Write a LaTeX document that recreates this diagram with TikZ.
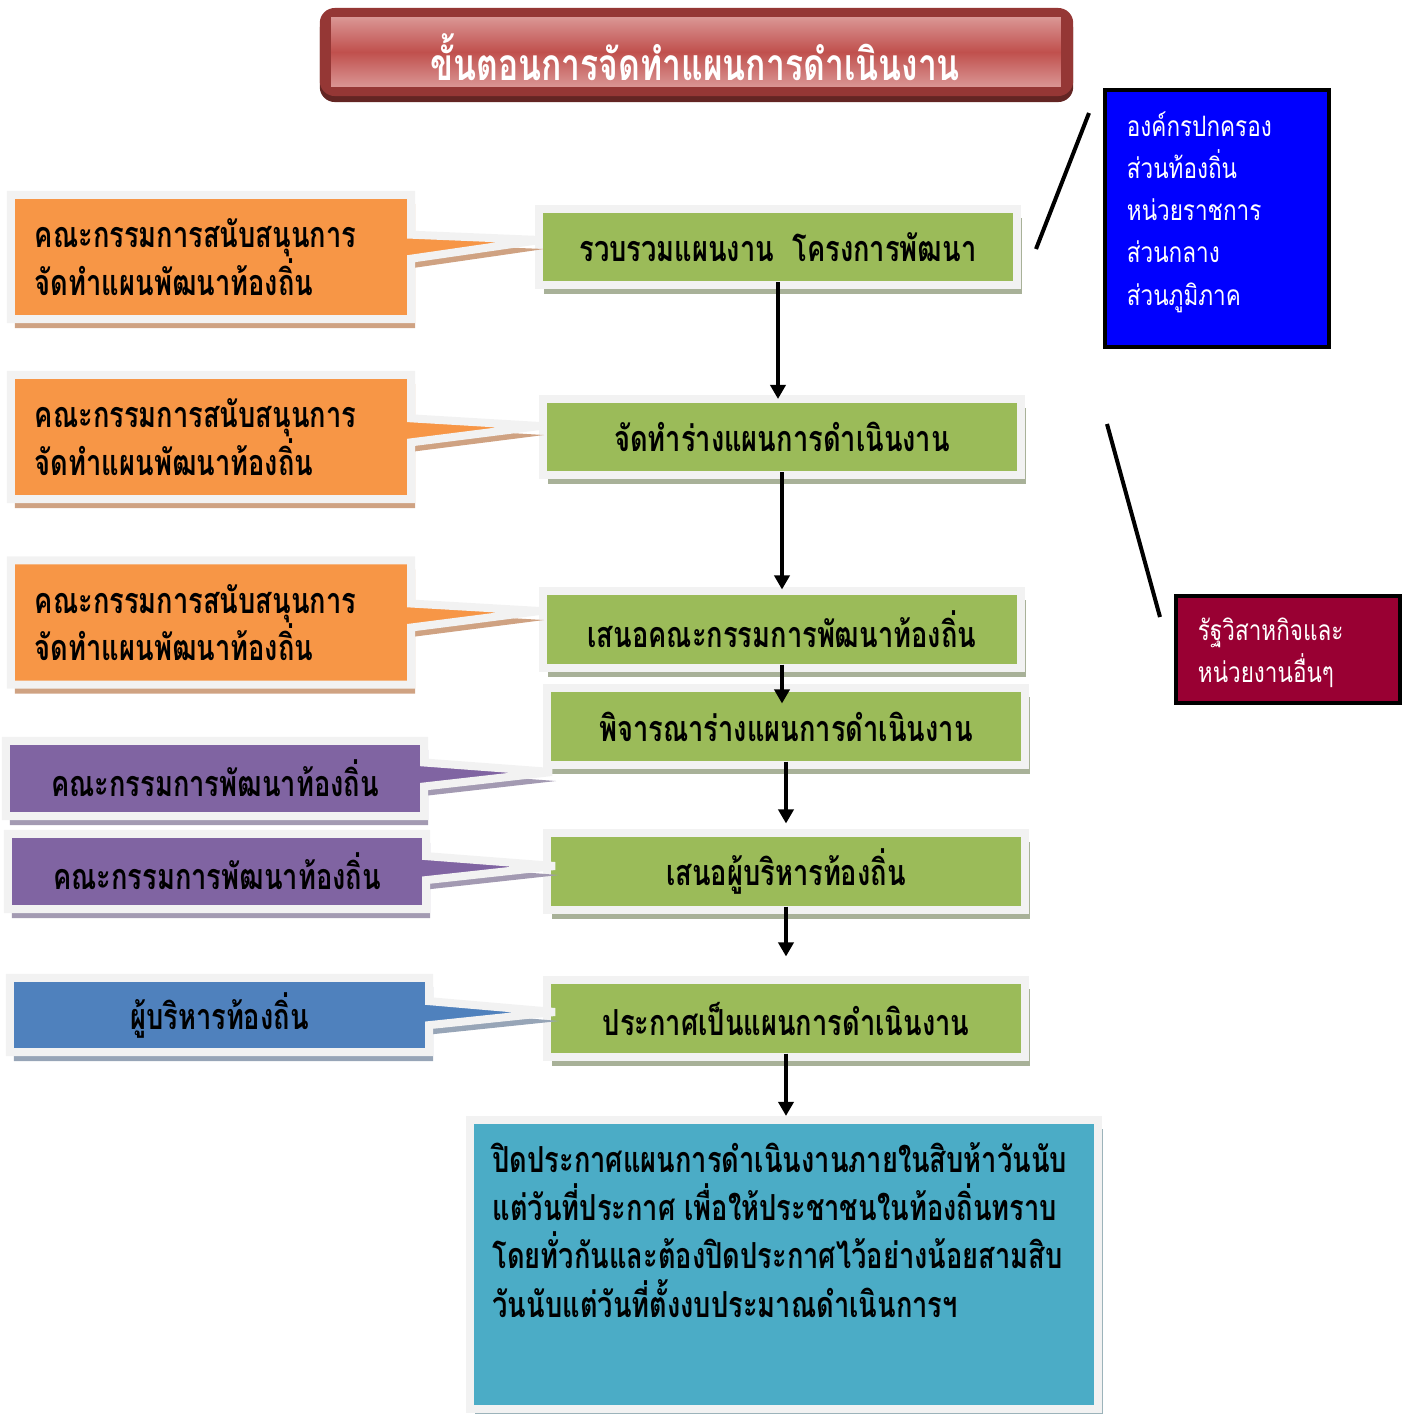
\documentclass[tikz,border=0pt]{standalone}
\usepackage{fontspec}
\usepackage{tikz}
\usetikzlibrary{calc, arrows.meta, shapes.callouts, shadows}
\newfontfamily\thaiplain[Script=Thai, FakeStretch=0.8]{Loma}
\newfontfamily\thaicond[Script=Thai, FakeStretch=0.76]{Loma}
\definecolor{framegray}{HTML}{F2F2F2}
\definecolor{titlered}{HTML}{953735}
\definecolor{titledark}{HTML}{632523}
\definecolor{titlelight}{HTML}{DA9694}
\definecolor{titlemid}{HTML}{C0504D}
\definecolor{stepgreen}{HTML}{9BBB59}
\definecolor{stepshade}{HTML}{A8B198}
\definecolor{noteorange}{HTML}{F79646}
\definecolor{noteorangeshade}{HTML}{CFA282}
\definecolor{notepurple}{HTML}{8064A2}
\definecolor{notepurpleshade}{HTML}{A39AB2}
\definecolor{noteblue}{HTML}{4F81BD}
\definecolor{noteblueshade}{HTML}{97A5B7}
\definecolor{noticeteal}{HTML}{4BACC6}
\definecolor{tealshade}{HTML}{9CB3BA}
\definecolor{agencyblue}{HTML}{0000FF}
\definecolor{statered}{HTML}{990033}
\tikzset{
  boxfont/.style={font={\thaicond\bfseries\fontsize{10.2}{13.5}\selectfont\setlength{\lineskiplimit}{-20pt}}},
  stepbox/.style={draw=framegray, line width=0.08cm, fill=stepgreen, minimum width=4.77cm,
    minimum height=0.76cm, inner sep=0pt, boxfont,
    drop shadow={shadow xshift=0.05cm, shadow yshift=-0.09cm, fill=stepshade, opacity=1}},
  note/.style={rectangle callout, draw=framegray, line width=0.08cm, callout pointer width=0.24cm,
    inner sep=0pt, boxfont, fill=#1, drop shadow={shadow xshift=0.04cm, shadow yshift=-0.09cm,
    fill=#1shade, opacity=1}},
  infobox/.style={draw=black, line width=0.04cm, text=white, align=left, inner sep=0pt,
    font={\thaiplain\fontsize{8}{12}\selectfont\setlength{\lineskiplimit}{-20pt}}},
  flow/.style={-{Triangle[length=0.14cm, width=0.15cm]}, line width=0.04cm, shorten <=-0.07cm},
  link/.style={line width=0.04cm}
}
\begin{document}
\begin{tikzpicture}[x=0.01cm, y=-0.01cm]
    \useasboundingbox (0,0) rectangle (1410,1414);
    \node[rounded corners=0.15cm, fill=titlered, minimum width=7.53cm, minimum height=0.88cm,
      drop shadow={shadow xshift=0cm, shadow yshift=-0.06cm, fill=titledark, opacity=1}] (title) at (696.5,52) {};
    \shade[top color=titlelight, bottom color=titlelight, middle color=titlemid]
      ($(title.north west)+(12,10)$) rectangle ($(title.south east)+(-13,-10)$);
    \node[text=white, font=\thaicond\bfseries\fontsize{12.6}{15}\selectfont] (titlelabel) at (695,57) {ขั้นตอนการจัดทำแผนการดำเนินงาน};

    \node[stepbox] (step1) at (778,247) {รวบรวมแผนงาน\ \ โครงการพัฒนา};
    \node[stepbox] (step2) at (782,437) {จัดทำร่างแผนการดำเนินงาน};
    \node[stepbox] (step3) at (782,629.5) {เสนอคณะกรรมการพัฒนาท้องถิ่น};
    \node[stepbox] (step4) at (786,726.5) {พิจารณาร่างแผนการดำเนินงาน};
    \node[stepbox] (step5) at (786,871.5) {เสนอผู้บริหารท้องถิ่น};
    \node[stepbox] (step6) at (786,1018.5) {ประกาศเป็นแผนการดำเนินงาน};
    \node[stepbox, fill=noticeteal, minimum width=6.28cm, minimum height=2.89cm,
      drop shadow={shadow xshift=0.05cm, shadow yshift=-0.09cm, fill=tealshade, opacity=1}] (step7) at (784,1264.5) {};
    \node[font={\thaicond\bfseries\fontsize{10.2}{13.7}\selectfont\setlength{\lineskiplimit}{-20pt}}, anchor=north west, align=left, inner sep=0pt] (step7text) at ($(step7.north west)+(26,26)$)
      {ปิดประกาศแผนการดำเนินงานภายในสิบห้าวันนับ\\แต่วันที่ประกาศ เพื่อให้ประชาชนในท้องถิ่นทราบ\\โดยทั่วกันและต้องปิดประกาศไว้อย่างน้อยสามสิบ\\วันนับแต่วันที่ตั้งงบประมาณดำเนินการฯ};

    \node[note=noteorange, text width=3.52cm, align=left, inner xsep=0.24cm, minimum height=1.24cm,
      callout absolute pointer={(540,240)}] (note1) at (211,257) {คณะกรรมการสนับสนุนการ\\จัดทำแผนพัฒนาท้องถิ่น};
    \node[note=noteorange, text width=3.52cm, align=left, inner xsep=0.24cm, minimum height=1.24cm,
      callout absolute pointer={(540,426)}] (note2) at (211,437) {คณะกรรมการสนับสนุนการ\\จัดทำแผนพัฒนาท้องถิ่น};
    \node[note=noteorange, text width=3.52cm, align=left, inner xsep=0.24cm, minimum height=1.24cm,
      callout absolute pointer={(540,611)}] (note3) at (211,622.5) {คณะกรรมการสนับสนุนการ\\จัดทำแผนพัฒนาท้องถิ่น};
    \node[note=notepurple, minimum width=4.18cm, minimum height=0.75cm,
      callout absolute pointer={(552,772)}] (note4) at (215,778.5) {คณะกรรมการพัฒนาท้องถิ่น};
    \node[note=notepurple, minimum width=4.18cm, minimum height=0.75cm,
      callout absolute pointer={(555,866)}] (note5) at (217,871.5) {คณะกรรมการพัฒนาท้องถิ่น};
    \node[note=noteblue, minimum width=4.19cm, minimum height=0.74cm,
      callout absolute pointer={(555,1012)}] (note6) at (219.5,1015) {ผู้บริหารท้องถิ่น};

    \node[infobox, fill=agencyblue, minimum width=2.24cm, minimum height=2.57cm, text width=1.8cm, text depth=1.89cm] (agency) at (1217,218.5)
      {องค์กรปกครอง\\ส่วนท้องถิ่น\\หน่วยราชการ\\ส่วนกลาง\\ส่วนภูมิภาค};
    \node[infobox, fill=statered, minimum width=2.24cm, minimum height=1.07cm, text width=1.8cm, text depth=0.4cm] (state) at (1288,649.5)
      {รัฐวิสาหกิจและ\\หน่วยงานอื่นๆ};
    \coordinate (agencylinka) at (1089,113);
    \coordinate (agencylinkb) at (1036,249);
    \coordinate (statelinka) at (1107,424);
    \coordinate (statelinkb) at (1160,617);
    \draw[link] (agencylinka) -- (agencylinkb);
    \draw[link] (statelinka) -- (statelinkb);

    \draw[flow, shorten >=-0.04cm] (step1.south) -- (step1.south |- step2.north);
    \draw[flow, shorten >=-0.02cm] (step2.south) -- (step2.south |- step3.north);
    \draw[flow, shorten >=-0.19cm] (step3.south) -- (step3.south |- step4.north);
    \draw[flow, shorten >=0.06cm] (step4.south) -- (step4.south |- step5.north);
    \draw[flow, shorten >=0.2cm] (step5.south) -- (step5.south |- step6.north);
    \draw[flow] (step6.south) -- (step6.south |- step7.north);
\end{tikzpicture}
\end{document}
